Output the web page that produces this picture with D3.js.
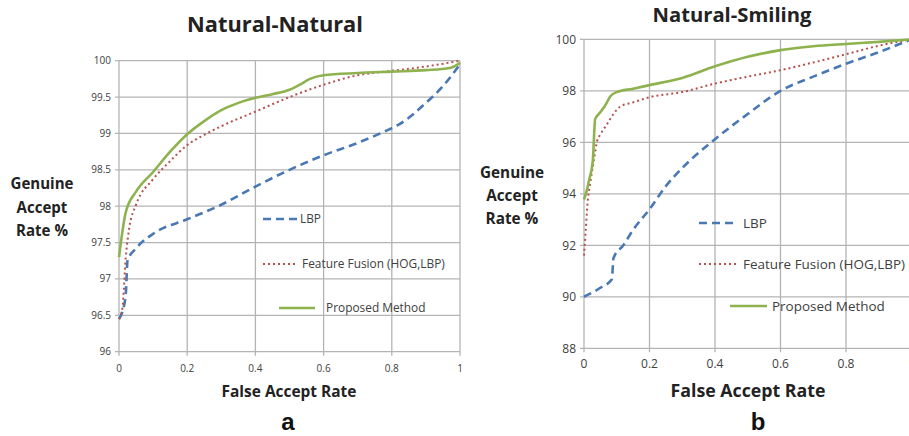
<!DOCTYPE html>
<html><head><meta charset="utf-8">
<script src="https://cdn.jsdelivr.net/npm/d3@7"></script>
<style>body{margin:0;background:#fff}svg{display:block}</style>
</head><body>
<svg id="c" width="909" height="436"></svg>
<script>
// ---- data ----
const seriesNames = ["LBP", "Feature Fusion (HOG,LBP)", "Proposed Method"];
const xTicks = [0, 0.2, 0.4, 0.6, 0.8, 1];
const yTicksA = [96, 96.5, 97, 97.5, 98, 98.5, 99, 99.5, 100];
const yTicksB = [88, 90, 92, 94, 96, 98, 100];

const lbpA = [[0,96.45],[0.01,96.55],[0.02,96.8],[0.025,97.25],[0.05,97.42],[0.1,97.62],[0.2,97.82],[0.3,98.02],[0.4,98.27],[0.5,98.5],[0.6,98.7],[0.7,98.87],[0.78,99.03],[0.82,99.12],[0.9,99.42],[0.95,99.65],[1,99.95]];
const fusionA = [[0,96.45],[0.01,96.6],[0.02,97.3],[0.03,97.7],[0.05,98.02],[0.1,98.37],[0.15,98.62],[0.2,98.84],[0.25,98.98],[0.3,99.1],[0.4,99.3],[0.5,99.5],[0.6,99.67],[0.7,99.8],[0.8,99.86],[0.9,99.92],[1,100]];
const proposedA = [[0,97.3],[0.02,97.92],[0.05,98.2],[0.1,98.47],[0.15,98.75],[0.2,98.99],[0.25,99.17],[0.3,99.32],[0.35,99.42],[0.4,99.49],[0.45,99.54],[0.5,99.6],[0.53,99.67],[0.56,99.75],[0.6,99.8],[0.7,99.83],[0.8,99.85],[0.9,99.87],[0.97,99.9],[1,99.97]];

const lbpB = [[0,90.0],[0.05,90.35],[0.085,90.68],[0.09,91.5],[0.12,92.0],[0.15,92.6],[0.2,93.4],[0.25,94.3],[0.3,95.0],[0.4,96.12],[0.5,97.1],[0.6,98.0],[0.7,98.55],[0.8,99.05],[0.9,99.5],[1,100]];
const fusionB = [[0,91.6],[0.005,92.5],[0.01,93.5],[0.02,94.5],[0.03,95.3],[0.04,96.05],[0.05,96.3],[0.07,96.7],[0.09,97.1],[0.11,97.38],[0.15,97.55],[0.2,97.75],[0.3,97.95],[0.4,98.28],[0.5,98.55],[0.6,98.8],[0.7,99.1],[0.8,99.42],[0.9,99.75],[1,100]];
const proposedB = [[0,93.78],[0.01,94.2],[0.015,94.5],[0.027,95.3],[0.034,96.9],[0.045,97.1],[0.059,97.32],[0.07,97.55],[0.08,97.78],[0.1,97.95],[0.15,98.08],[0.2,98.22],[0.3,98.5],[0.4,98.95],[0.5,99.32],[0.6,99.58],[0.7,99.73],[0.8,99.82],[0.9,99.9],[1,100]];

const styles = [
  {color:"#4a78b5", width:2.6, dash:"8,5"},
  {color:"#b5524f", width:2, dash:"2,3"},
  {color:"#8db24e", width:2.6, dash:null}
];

const svg = d3.select("#c");

function fitText(sel, target){
  const n = sel.node();
  const fs = parseFloat(sel.attr("font-size"));
  const w = n.getComputedTextLength();
  sel.attr("font-size", (fs*target/w).toFixed(2));
}

function chart(o){
  const x = d3.scaleLinear().domain([0,1]).range([o.x0,o.x1]);
  const y = d3.scaleLinear().domain(o.yDomain).range([o.yB,o.yT]);
  const g = svg.append("g");
  // grid
  g.append("g").selectAll("line").data(o.yTicks).join("line")
    .attr("x1",o.x0-4).attr("x2",o.x1).attr("y1",d=>y(d)).attr("y2",d=>y(d))
    .attr("stroke","#b4b4b4").attr("stroke-width",1.3);
  g.append("g").selectAll("line").data(xTicks).join("line")
    .attr("x1",d=>x(d)).attr("x2",d=>x(d)).attr("y1",o.yT).attr("y2",o.yB+4)
    .attr("stroke","#b4b4b4").attr("stroke-width",1.3);
  // tick labels
  g.append("g").selectAll("text").data(o.yTicks).join("text")
    .attr("x",o.x0-8).attr("y",d=>y(d)).attr("dy","0.35em").attr("text-anchor","end")
    .attr("font-family","Open Sans").attr("font-size",o.tickFs).attr("fill","#404040").text(d=>d);
  g.append("g").selectAll("text").data(xTicks).join("text")
    .attr("x",d=>x(d)).attr("y",o.yB+20).attr("text-anchor","middle")
    .attr("font-family","Open Sans").attr("font-size",o.tickFs).attr("fill","#404040").text(d=>d);
  // lines
  const line = d3.line().x(d=>x(d[0])).y(d=>y(d[1])).curve(d3.curveMonotoneX);
  o.series.forEach((s,i)=>{
    g.append("path").attr("d",line(s)).attr("fill","none")
      .attr("stroke",styles[i].color).attr("stroke-width",styles[i].width)
      .attr("stroke-dasharray",styles[i].dash);
  });
  // legend
  let legFs = null;
  [1,0,2].forEach(i=>{
    const L = o.legend[i];
    g.append("line").attr("x1",L[0]).attr("x2",L[1]).attr("y1",L[2]).attr("y2",L[2])
      .attr("stroke",styles[i].color).attr("stroke-width",styles[i].width).attr("stroke-dasharray",styles[i].dash);
    const t = g.append("text").attr("x",L[3]).attr("y",L[2]).attr("dy","0.35em")
      .attr("font-family","Open Sans").attr("font-size",11).attr("fill","#404040").text(seriesNames[i]);
    if(L[4]){ fitText(t,L[4]); legFs = t.attr("font-size"); } else t.attr("font-size",legFs);
  });
  // titles
  const tt = g.append("text").attr("x",o.title[1]).attr("y",o.title[2]).attr("text-anchor","middle")
    .attr("font-family","Open Sans").attr("font-weight","bold").attr("font-size",18).attr("fill","#222").text(o.title[0]);
  fitText(tt,o.title[3]);
  const xt = g.append("text").attr("x",o.xt[0]).attr("y",o.xt[1]).attr("text-anchor","middle")
    .attr("font-family","Open Sans").attr("font-weight","bold").attr("font-size",15).attr("fill","#222").text("False Accept Rate");
  fitText(xt,o.xt[2]);
  const yl = ["Genuine","Accept","Rate %"];
  let fsY = null;
  yl.forEach((s,i)=>{
    const t = g.append("text").attr("x",o.yt[0]).attr("y",o.yt[1]+i*o.yt[3]).attr("text-anchor","middle")
      .attr("font-family","Open Sans").attr("font-weight","bold").attr("font-size",15).attr("fill","#222").text(s);
    if(i===0){fitText(t,o.yt[2]); fsY=t.attr("font-size");} else t.attr("font-size",fsY);
  });
  g.append("text").attr("x",o.letter[0]).attr("y",o.letter[1]).attr("text-anchor","middle")
    .attr("font-family","Liberation Sans").attr("font-weight","bold").attr("font-size",24).attr("fill","#111").text(o.letter[2]);
}

chart({x0:119,x1:460,yT:60.7,yB:351.7,yDomain:[96,100],yTicks:yTicksA,tickFs:10,
  series:[lbpA,fusionA,proposedA],
  legend:[[263,297,219,300,null],[263,297,264,302,143],[279,315,308,326,null]],
  title:["Natural-Natural",275,32,176],
  xt:[289,397,135],
  yt:[42,189,63,23.5],
  letter:[288,430,"a"]});

chart({x0:584,x1:911.5,yT:39.3,yB:348.3,yDomain:[88,100],yTicks:yTicksB,tickFs:12,
  series:[lbpB,fusionB,proposedB],
  legend:[[699,738,223,743,null],[699,738,264,743,162],[730,767,306,772,null]],
  title:["Natural-Smiling",732,22,159],
  xt:[748,397,155],
  yt:[512,178,64,23],
  letter:[758,430,"b"]});
</script>
</body></html>
